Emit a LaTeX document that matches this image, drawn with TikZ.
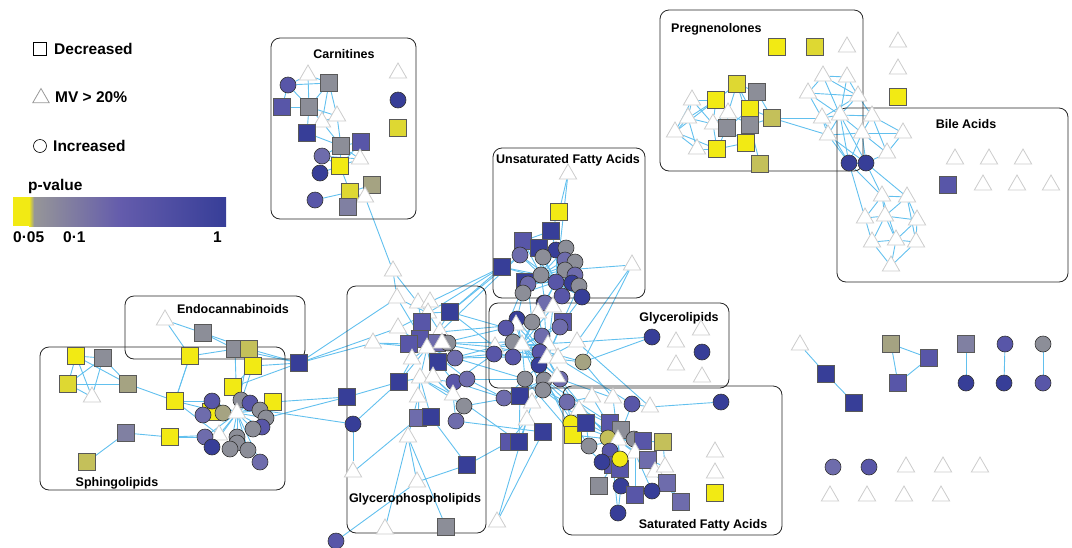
\documentclass[tikz,border=0pt]{standalone}
\usepackage{fontspec}
\setmainfont{Liberation Sans}
\usetikzlibrary{shapes.geometric,backgrounds}
\definecolor{yel}{RGB}{242,234,20}
\definecolor{oly}{RGB}{222,216,50}
\definecolor{olv}{RGB}{196,192,90}
\definecolor{olg}{RGB}{165,163,130}
\definecolor{gry}{RGB}{140,142,152}
\definecolor{lgry}{RGB}{128,128,162}
\definecolor{lav}{RGB}{110,108,172}
\definecolor{pur}{RGB}{88,86,168}
\definecolor{dblue}{RGB}{55,62,152}
\definecolor{sky}{RGB}{98,192,238}
\definecolor{barg}{RGB}{150,150,152}
\definecolor{barp}{RGB}{100,92,172}
\tikzset{
 sq/.style={rectangle,draw=black!65,line width=0.6pt,fill=#1,minimum size=17pt,inner sep=0pt},
 ci/.style={circle,draw=black!80,line width=0.6pt,fill=#1,minimum size=16pt,inner sep=0pt},
 tri/.style={regular polygon,regular polygon sides=3,draw=black!20,line width=0.8pt,fill=white,minimum size=20pt,inner sep=0pt},
 ed/.style={draw=sky,line width=0.9pt},
 grp/.style={draw=black!85,line width=0.8pt,rounded corners=9pt},
 lbl/.style={font=\fontsize{12.5}{14}\selectfont\bfseries,inner sep=0pt},
 leg/.style={font=\fontsize{15.5}{17}\selectfont\bfseries,inner sep=0pt,anchor=west},
}
\begin{document}
\begin{tikzpicture}[x=1pt,y=-1pt]
\useasboundingbox (0,0) rectangle (1072,547);
% ---------- legend
\node[sq=white,draw=black,minimum size=13pt] (lsq) at (40,49) {};
\node[leg] (ldec) at (54,49) {Decreased};
\node[tri,draw=black!40,minimum size=19pt] (ltri) at (41,98) {};
\node[leg] (lmv) at (55,97) {MV > 20\%};
\node[ci=white,draw=black,minimum size=13pt] (lci) at (40,146) {};
\node[leg] (linc) at (53,146) {Increased};
\node[leg] (lpv) at (28,186) {p-value};
\fill[yel] (13,197) rectangle (29,226);
\shade[left color=yel,right color=barg] (29,197) rectangle (34,226);
\shade[left color=barg,right color=barp] (34,197) rectangle (120,226);
\shade[left color=barp,right color=dblue] (120,197) rectangle (226,226);
\node[leg] (l005) at (13,237) {0·05};
\node[leg] (l01) at (63,237) {0·1};
\node[leg,anchor=east] (l1) at (222,237) {1};
% ---------- group boxes
\draw[grp] (271,38) rectangle (416,219);
\draw[grp] (660,10) rectangle (863,171);
\draw[grp] (837,108) rectangle (1068,282);
\draw[grp] (493,148) rectangle (645,298);
\draw[grp] (125,296) rectangle (305,359);
\draw[grp] (40,347) rectangle (285,490);
\draw[grp] (347,286) rectangle (486,533);
\draw[grp] (489,303) rectangle (729,388);
\draw[grp] (563,386) rectangle (782,535);
\node[lbl] (tcar) at (344,54) {Carnitines};
\node[lbl,anchor=west] (tpre) at (671,29) {Pregnenolones};
\node[lbl] (tbile) at (966,124) {Bile Acids};
\node[lbl] (tufa) at (568,160) {Unsaturated Fatty Acids};
\node[lbl] (tendo) at (233,309) {Endocannabinoids};
\node[lbl] (tsph) at (117,483) {Sphingolipids};
\node[lbl] (tgpl) at (415,499) {Glycerophospholipids};
\node[lbl] (tgl) at (679,318) {Glycerolipids};
\node[lbl] (tsfa) at (703,525) {Saturated Fatty Acids};
% ---------- carnitines
\node[ci=pur] (k1) at (288,85) {};
\node[tri] (k2) at (308,75) {};
\node[sq=gry] (k3) at (329,83) {};
\node[tri] (k4) at (398,73) {};
\node[ci=dblue] (k5) at (398,100) {};
\node[sq=pur] (k6) at (282,107) {};
\node[sq=gry] (k7) at (309,107) {};
\node[tri] (k8) at (337,116) {};
\node[tri] (k9) at (322,122) {};
\node[sq=oly] (k10) at (398,128) {};
\node[sq=dblue] (k11) at (307,133) {};
\node[sq=gry] (k12) at (341,146) {};
\node[sq=pur] (k13) at (361,142) {};
\node[ci=lav] (k14) at (322,156) {};
\node[tri] (k15) at (360,159) {};
\node[sq=yel] (k16) at (340,166) {};
\node[ci=dblue] (k17) at (320,173) {};
\node[sq=olg] (k18) at (372,185) {};
\node[sq=oly] (k19) at (350,192) {};
\node[tri] (k20) at (365,197) {};
\node[ci=pur] (k21) at (315,200) {};
\node[sq=lgry] (k22) at (348,207) {};
\node[tri] (k23) at (393,271) {};
% ---------- pregnenolones
\node[sq=yel] (p1) at (777,47) {};
\node[sq=oly] (p2) at (815,47) {};
\node[tri] (p3) at (847,47) {};
\node[tri] (p4) at (898,42) {};
\node[tri] (p5) at (898,69) {};
\node[sq=yel] (p6) at (898,97) {};
\node[tri] (p7) at (692,100) {};
\node[sq=yel] (p8) at (716,100) {};
\node[sq=oly] (p9) at (737,84) {};
\node[sq=gry] (p10) at (757,92) {};
\node[tri] (p11) at (728,113) {};
\node[sq=yel] (p12) at (750,109) {};
\node[tri] (p13) at (688,118) {};
\node[tri] (p14) at (713,124) {};
\node[sq=gry] (p15) at (727,128) {};
\node[sq=gry] (p16) at (750,125) {};
\node[sq=olv] (p17) at (772,118) {};
\node[tri] (p18) at (675,132) {};
\node[sq=yel] (p19) at (746,143) {};
\node[tri] (p20) at (697,149) {};
\node[sq=yel] (p21) at (717,149) {};
\node[sq=olv] (p22) at (760,164) {};
% ---------- bile acids
\node[tri] (b1) at (823,76) {};
\node[tri] (b2) at (847,77) {};
\node[tri] (b3) at (808,93) {};
\node[tri] (b4) at (858,96) {};
\node[tri] (b5) at (822,118) {};
\node[tri] (b6) at (840,115) {};
\node[tri] (b7) at (828,135) {};
\node[tri] (b8) at (872,116) {};
\node[tri] (b9) at (862,133) {};
\node[tri] (b10) at (903,133) {};
\node[tri] (b11) at (887,153) {};
\node[ci=dblue] (b12) at (849,163) {};
\node[ci=dblue] (b13) at (866,163) {};
\node[sq=pur] (b14) at (948,185) {};
\node[tri] (b15) at (955,159) {};
\node[tri] (b16) at (989,159) {};
\node[tri] (b17) at (1023,159) {};
\node[tri] (b18) at (983,185) {};
\node[tri] (b19) at (1017,185) {};
\node[tri] (b20) at (1051,185) {};
\node[tri] (b21) at (882,196) {};
\node[tri] (b22) at (907,197) {};
\node[tri] (b23) at (865,218) {};
\node[tri] (b24) at (885,216) {};
\node[tri] (b25) at (917,220) {};
\node[tri] (b26) at (872,242) {};
\node[tri] (b27) at (896,240) {};
\node[tri] (b28) at (916,242) {};
\node[tri] (b29) at (891,266) {};
% ---------- unsaturated fatty acids
\node[tri] (u1) at (568,174) {};
\node[sq=yel] (u2) at (559,212) {};
\node[sq=dblue] (u3) at (551,231) {};
\node[sq=pur] (u4) at (523,241) {};
\node[sq=dblue] (u5) at (539,248) {};
\node[ci=dblue] (u6) at (556,250) {};
\node[ci=gry] (u7) at (566,248) {};
\node[ci=lav] (u8) at (520,255) {};
\node[ci=gry] (u9) at (543,257) {};
\node[ci=lav] (u10) at (565,260) {};
\node[ci=gry] (u11) at (575,262) {};
\node[sq=dblue] (u12) at (502,267) {};
\node[ci=gry] (u13) at (565,270) {};
\node[ci=gry] (u14) at (541,275) {};
\node[ci=lav] (u15) at (575,275) {};
\node[sq=dblue] (u18) at (525,282) {};
\node[ci=pur] (u16) at (556,282) {};
\node[ci=dblue] (u17) at (572,283) {};
\node[ci=lav] (u19) at (528,284) {};
\node[ci=gry] (u20) at (579,286) {};
\node[ci=gry] (u21) at (523,293) {};
\node[ci=pur] (u22) at (562,296) {};
\node[ci=dblue] (u23) at (582,297) {};
\node[tri] (u25) at (632,265) {};
% ---------- central / glycerolipids
\node[ci=dblue] (g26) at (544,303) {};
\node[ci=lav] (u24) at (545,303) {};
\node[tri] (g23) at (553,307) {};
\node[tri] (g27) at (538,313) {};
\node[ci=dblue] (g2) at (517,319) {};
\node[ci=gry] (g4) at (532,322) {};
\node[tri] (g3) at (516,325) {};
\node[ci=pur] (g1) at (506,328) {};
\node[sq=pur] (g25) at (563,322) {};
\node[ci=lav] (g24) at (560,327) {};
\node[ci=lav] (g5) at (542,336) {};
\node[ci=gry] (g6) at (513,342) {};
\node[tri] (g7) at (522,345) {};
\node[tri] (g9) at (548,345) {};
\node[tri] (g22) at (577,342) {};
\node[tri] (g21) at (495,347) {};
\node[ci=pur] (g8) at (540,352) {};
\node[ci=pur] (g20) at (494,354) {};
\node[ci=pur] (g10) at (513,357) {};
\node[ci=dblue] (g11) at (539,365) {};
\node[tri] (g12) at (547,358) {};
\node[tri] (g13) at (558,358) {};
\node[ci=olg] (g14) at (583,362) {};
\node[ci=gry] (g15) at (525,379) {};
\node[ci=gry] (g16) at (544,380) {};
\node[ci=lav] (g17) at (560,379) {};
\node[tri] (g19) at (557,377) {};
\node[ci=gry] (g18) at (543,390) {};
\node[ci=lav] (g28) at (504,398) {};
\node[sq=dblue] (g29) at (520,396) {};
\node[ci=lav] (g30) at (567,402) {};
\node[tri] (g31) at (532,403) {};
\node[tri] (g32) at (527,420) {};
\node[sq=dblue] (g33) at (543,432) {};
\node[sq=pur] (g34) at (509,442) {};
\node[sq=dblue] (g35) at (519,442) {};
\node[tri] (g36) at (497,522) {};
\node[ci=dblue] (gl1) at (652,337) {};
\node[tri] (gl2) at (676,342) {};
\node[ci=dblue] (gl3) at (702,352) {};
\node[tri] (gl4) at (701,330) {};
\node[tri] (gl5) at (676,365) {};
\node[tri] (gl6) at (702,377) {};
% ---------- glycerophospholipids
\node[tri] (h1) at (397,298) {};
\node[tri] (h2) at (418,303) {};
\node[tri] (h3) at (430,302) {};
\node[sq=dblue] (h4) at (450,312) {};
\node[tri] (h6) at (428,313) {};
\node[sq=pur] (h5) at (422,322) {};
\node[tri] (h7) at (398,328) {};
\node[tri] (h10) at (440,332) {};
\node[sq=pur] (h8) at (420,339) {};
\node[sq=pur] (h9) at (409,344) {};
\node[sq=lav] (h11) at (437,343) {};
\node[ci=gry] (h12) at (448,343) {};
\node[tri] (h13) at (442,343) {};
\node[tri] (h14) at (373,343) {};
\node[tri] (h15) at (427,348) {};
\node[sq=dblue] (h16) at (438,362) {};
\node[tri] (h17) at (412,359) {};
\node[ci=lav] (h18) at (455,358) {};
\node[sq=dblue] (h19) at (399,382) {};
\node[tri] (h20) at (420,378) {};
\node[tri] (h21) at (433,377) {};
\node[ci=pur] (h22) at (454,382) {};
\node[ci=lav] (h23) at (467,379) {};
\node[tri] (h24) at (453,395) {};
\node[tri] (h25) at (418,397) {};
\node[ci=gry] (h26) at (464,406) {};
\node[sq=lav] (h27) at (418,418) {};
\node[sq=dblue] (h28) at (431,417) {};
\node[ci=lav] (h29) at (456,421) {};
\node[tri] (h30) at (408,437) {};
\node[sq=dblue] (h31) at (467,465) {};
\node[tri] (h32) at (417,482) {};
\node[tri] (h33) at (353,472) {};
\node[sq=gry] (h34) at (446,527) {};
\node[tri] (h35) at (385,529) {};
\node[ci=dblue] (h36) at (353,424) {};
\node[sq=dblue] (h37) at (347,397) {};
\node[ci=pur] (h38) at (336,541) {};
% ---------- saturated fatty acids
\node[tri] (s2) at (592,397) {};
\node[tri] (s3) at (613,398) {};
\node[ci=pur] (s4) at (632,404) {};
\node[tri] (s5) at (650,407) {};
\node[ci=dblue] (s6) at (721,402) {};
\node[tri] (s7) at (579,410) {};
\node[ci=yel] (s8) at (571,423) {};
\node[sq=yel] (s9) at (573,435) {};
\node[sq=dblue] (s10) at (586,423) {};
\node[sq=pur] (s11) at (610,423) {};
\node[sq=gry] (s12) at (621,430) {};
\node[ci=olv] (s13) at (608,438) {};
\node[tri] (s14) at (618,440) {};
\node[ci=gry] (s15) at (634,439) {};
\node[sq=pur] (s16) at (643,441) {};
\node[sq=olv] (s17) at (663,442) {};
\node[ci=gry] (s18) at (589,446) {};
\node[ci=pur] (s19) at (610,451) {};
\node[sq=pur] (s21) at (613,465) {};
\node[sq=pur] (s22) at (620,469) {};
\node[ci=dblue] (s20) at (602,462) {};
\node[tri] (s24) at (635,453) {};
\node[ci=yel] (s23) at (620,459) {};
\node[sq=lav] (s25) at (648,460) {};
\node[tri] (s26) at (655,472) {};
\node[tri] (s27) at (665,467) {};
\node[tri] (s28) at (715,452) {};
\node[tri] (s29) at (715,473) {};
\node[sq=gry] (s30) at (599,486) {};
\node[ci=dblue] (s31) at (621,486) {};
\node[sq=lav] (s32) at (667,483) {};
\node[sq=pur] (s33) at (635,495) {};
\node[ci=dblue] (s34) at (652,491) {};
\node[sq=lav] (s35) at (681,502) {};
\node[sq=yel] (s36) at (715,493) {};
\node[ci=dblue] (s37) at (618,513) {};
% ---------- endocannabinoids / sphingolipids
\node[tri] (e1) at (165,320) {};
\node[sq=gry] (e2) at (203,333) {};
\node[sq=gry] (e3) at (235,349) {};
\node[sq=olv] (e4) at (249,349) {};
\node[sq=yel] (e5) at (190,356) {};
\node[sq=dblue] (e6) at (299,363) {};
\node[sq=yel] (e7) at (253,366) {};
\node[sq=yel] (e8) at (76,356) {};
\node[sq=gry] (e9) at (103,358) {};
\node[sq=oly] (e10) at (68,384) {};
\node[sq=olg] (e11) at (128,384) {};
\node[tri] (e12) at (92,397) {};
\node[sq=yel] (e13) at (233,387) {};
\node[sq=yel] (e14) at (175,401) {};
\node[sq=yel] (e15) at (273,402) {};
\node[sq=yel] (e20) at (211,412) {};
\node[ci=pur] (e16) at (212,401) {};
\node[ci=gry] (e17) at (241,400) {};
\node[ci=pur] (e18) at (250,403) {};
\node[ci=gry] (e19) at (260,410) {};
\node[ci=lav] (e21) at (203,415) {};
\node[ci=olg] (e22) at (223,413) {};
\node[tri] (e23) at (237,413) {};
\node[ci=gry] (e24) at (266,418) {};
\node[ci=pur] (e25) at (262,427) {};
\node[ci=gry] (e26) at (253,429) {};
\node[tri] (e27) at (219,435) {};
\node[ci=lav] (e28) at (205,437) {};
\node[ci=gry] (e29) at (237,437) {};
\node[ci=gry] (e31) at (237,443) {};
\node[ci=dblue] (e30) at (212,447) {};
\node[ci=gry] (e32) at (230,449) {};
\node[ci=gry] (e33) at (248,450) {};
\node[ci=lav] (e34) at (260,462) {};
\node[sq=lgry] (e35) at (126,433) {};
\node[sq=yel] (e36) at (170,437) {};
\node[sq=olv] (e37) at (87,462) {};
% ---------- isolated pairs
\node[tri] (i1) at (800,345) {};
\node[sq=dblue] (i2) at (826,374) {};
\node[sq=dblue] (i3) at (854,403) {};
\node[sq=olg] (i4) at (891,344) {};
\node[sq=pur] (i5) at (929,358) {};
\node[sq=pur] (i6) at (898,383) {};
\node[sq=lgry] (i7) at (966,344) {};
\node[ci=dblue] (i8) at (966,383) {};
\node[ci=pur] (i9) at (1005,344) {};
\node[ci=dblue] (i10) at (1004,383) {};
\node[ci=gry] (i11) at (1043,344) {};
\node[ci=pur] (i12) at (1043,383) {};
\node[ci=lav] (i13) at (833,467) {};
\node[ci=pur] (i14) at (869,467) {};
\node[tri] (i15) at (906,467) {};
\node[tri] (i16) at (943,467) {};
\node[tri] (i17) at (980,467) {};
\node[tri] (i18) at (830,496) {};
\node[tri] (i19) at (867,496) {};
\node[tri] (i20) at (904,496) {};
\node[tri] (i21) at (941,496) {};
% ---------- edges
\begin{pgfonlayer}{background}
\foreach \a/\b in {k1/k3,k1/k6,k1/k7,k1/k2,k2/k7,k2/k3,k3/k7,k6/k7,k7/k8,k7/k9,k3/k8,k7/k11,k9/k11,k8/k12,k9/k12,k11/k12,k12/k13,k12/k14,k12/k16,k13/k15,k12/k15,k14/k16,k13/k16,k16/k17,k16/k19,k19/k18,k19/k21,k19/k22,k18/k20,k19/k20,k20/k22,k20/k23,k8/k9,k3/k9,k23/h1,k23/h2,k14/k15,k16/k15}
  \draw[ed] (\a) -- (\b);
\foreach \a/\b in {p7/p8,p7/p13,p7/p18,p7/p14,p8/p13,p8/p14,p8/p11,p8/p9,p9/p10,p9/p12,p9/p16,p9/p11,p10/p16,p10/p12,p10/p17,p11/p15,p11/p14,p12/p16,p12/p15,p13/p18,p13/p20,p13/p14,p14/p15,p14/p21,p15/p19,p15/p21,p16/p19,p16/p17,p18/p20,p18/p21,p20/p21,p19/p21,p16/p22,p17/b5,p17/b7,p8/p18,p11/p16,p12/p17}
  \draw[ed] (\a) -- (\b);
\foreach \a/\b in {b1/b2,b1/b3,b1/b4,b2/b4,b1/b6,b2/b6,b3/b5,b3/b6,b4/b6,b4/b5,b5/b6,b5/b7,b6/b7,b6/b8,b6/b9,b4/b8,b8/b9,b8/b10,b9/b10,b9/b11,b8/b11,b10/b11,b6/b12,b7/b12,b9/b12,b6/b13,b9/b13,b12/b13,b13/b21,b12/b21,b13/b22,b12/b23,b21/b22,b21/b23,b21/b24,b22/b24,b22/b25,b23/b24,b24/b25,b23/b26,b24/b26,b24/b27,b25/b27,b25/b28,b26/b27,b27/b28,b26/b29,b27/b29,b28/b29,b22/b28,b21/b27,b11/b13,b7/b9,b3/b4,b5/b12,b7/b13}
  \draw[ed] (\a) -- (\b);
\foreach \a/\b in {u1/u2,u2/u3,u3/u6,u3/u5,u3/u4,u4/u5,u16/u1,u12/h4,u12/h3,u8/h10,u8/h4,u12/h6,u25/g22,u25/g14,u25/u13,u24/g26,u22/g23,u21/g2,u16/g27,u19/g4,u23/g25,u20/g24,u18/g1}
  \draw[ed] (\a) -- (\b);
\foreach \a in {u4,u5,u6,u7,u8,u9,u10,u11,u12,u13,u15,u17,u18,u19,u20,u21,u22,u23,u24}
  {\draw[ed] (u14) -- (\a); \draw[ed] (u16) -- (\a);}
\foreach \a in {g1,g2,g3,g4,g5,g6,g7,g8,g9,g10,g11,g13,g14,g15,g16,g17,g18,g19,g20,g21,g22,g23,g24,g25,g26,g27}
  {\draw[ed] (g12) -- (\a); \draw[ed] (g7) -- (\a);}
\foreach \a/\b in {g16/g28,g16/g29,g16/g30,g16/g31,g31/g32,g32/g33,g32/g34,g32/g35,g29/g35,g14/gl1,g32/g36,g33/g36,g22/gl1,g15/g28,g18/g31}
  \draw[ed] (\a) -- (\b);
\foreach \a in {h1,h2,h3,h4,h5,h6,h7,h8,h9,h10,h11,h12,h14,h16,h17,h18,h19,h20,h21,h22,h23}
  \draw[ed] (h15) -- (\a);
\foreach \a/\b in {h6/h1,h6/h2,h6/h3,h6/h4,h6/h5,h6/h7,h6/h10,h20/h19,h20/h24,h20/h25,h20/h26,h20/h27,h20/h28,h20/h22,h25/h27,h25/h30,h30/h32,h28/h31,h24/h29,h29/h26,h21/h24,h32/h38,h32/h31,h33/h36,h35/h30,h30/h34,h19/h37,h19/h36,h27/h33,h21/h26,h17/h19,h9/h14,h8/h17}
  \draw[ed] (\a) -- (\b);
\foreach \a/\b in {h4/g21,h12/g21,h18/g20,h16/g6,h22/g28,h23/g28,h26/g29,h31/g34,h29/g33,h24/g35,h13/g1,h11/g10,h10/g3,h18/g15,h4/g1,h12/g6,h18/g10,h22/g20,h23/g15}
  \draw[ed] (\a) -- (\b);
\foreach \a in {s2,s3,s4,s7,s8,s9,s10,s11,s12,s13,s15,s16,s17,s18,s19,s20,s21,s22,s23,s24,s25}
  \draw[ed] (s14) -- (\a);
\foreach \a/\b in {s24/s26,s24/s27,s24/s32,s24/s35,s24/s25,s24/s34,s24/s33,s21/s30,s21/s31,s21/s33,s21/s37,s21/s20,s31/s37,s17/s27,s5/s6,s4/s5,s32/s35,s13/s21,s10/s18,s9/s20}
  \draw[ed] (\a) -- (\b);
\foreach \a/\b in {g18/s10,g30/s2,g17/s3,g19/s7,g30/s8,g13/s4,g22/s5,g16/s18,g11/s9,g14/s3,g15/s9,g16/s11,g18/s12,g17/s13,g30/s14}
  \draw[ed] (\a) -- (\b);
\foreach \a/\b in {e8/e9,e8/e10,e8/e11,e9/e10,e9/e11,e9/e12,e10/e11,e10/e12,e8/e12,e11/e14,e14/e16,e14/e22,e14/e27,e14/e5,e35/e36,e35/e37,e36/e27,e36/e28,e1/e2,e1/e5,e2/e3,e2/e4,e3/e6,e4/e6,e5/e3,e7/e6,e13/e6,e7/e13,e3/e23,e4/e23,e13/e23,e15/e23,e7/e23,e5/e14,e6/h14,e6/h7,e6/h1,e15/h37,e24/h37,e19/h36,e7/e4}
  \draw[ed] (\a) -- (\b);
\foreach \a in {e16,e17,e18,e19,e20,e21,e22,e24,e25,e26,e27,e28,e29,e30,e31,e32,e33,e34}
  \draw[ed] (e23) -- (\a);
\foreach \a/\b in {i1/i2,i2/i3,i4/i5,i4/i6,i5/i6,i7/i8,i9/i10,i11/i12}
  \draw[ed] (\a) -- (\b);
\end{pgfonlayer}
\end{tikzpicture}
\end{document}
